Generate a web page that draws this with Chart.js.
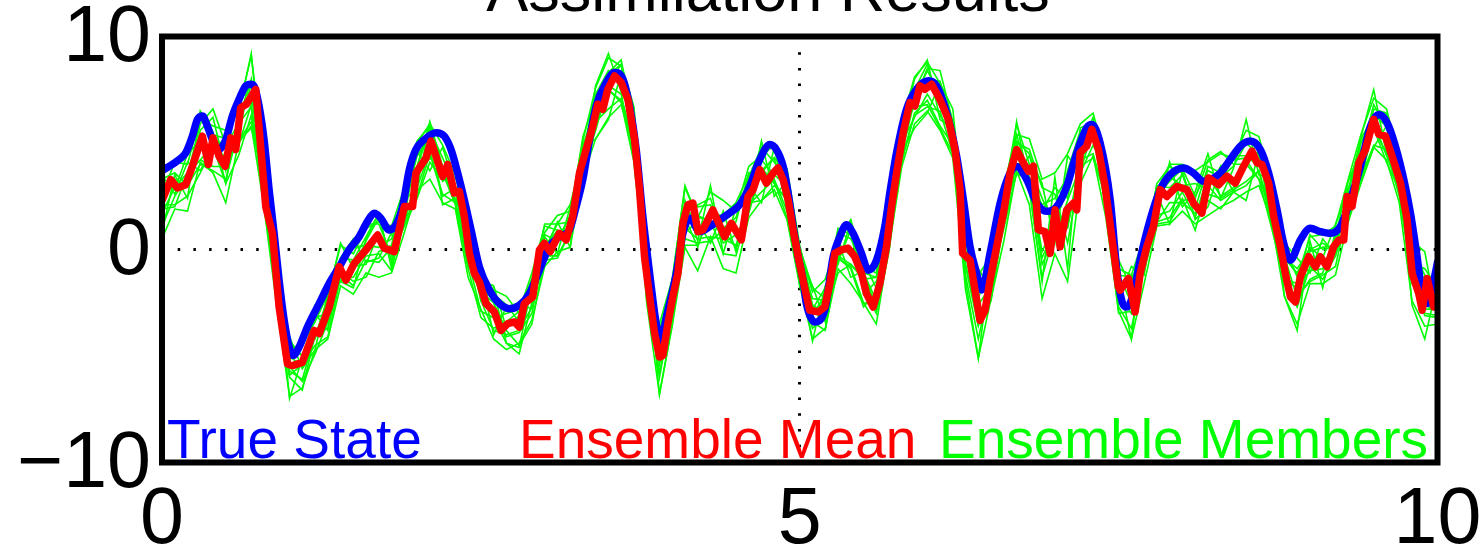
<!DOCTYPE html>
<html>
<head>
<meta charset="utf-8">
<script src="https://cdn.jsdelivr.net/npm/chart.js@4.4.0/dist/chart.umd.min.js"></script>
<style>
html, body { margin: 0; padding: 0; background: #fff; }
canvas { display: block; }
</style>
</head>
<body>
<canvas id="myChart" width="1484" height="551"></canvas>
<script>
// true state (blue) at its turning points
var true_x = [0, 0.133, 0.186, 0.238, 0.277, 0.317, 0.356, 0.395, 0.447, 0.5, 0.552, 0.604, 0.657, 0.696, 0.722, 0.761, 0.8, 0.84, 0.879, 0.918, 0.958, 0.997, 1.028, 1.075, 1.14, 1.232, 1.31, 1.39, 1.468, 1.546, 1.61, 1.664, 1.716, 1.78, 1.834, 1.886, 1.939, 1.99, 2.057, 2.148, 2.213, 2.266, 2.318, 2.37, 2.423, 2.488,
	2.567, 2.645, 2.724, 2.802, 2.88, 2.959, 3.037, 3.116, 3.194, 3.247, 3.299, 3.352, 3.404, 3.483, 3.548, 3.614, 3.666, 3.718, 3.77, 3.823, 3.875, 3.914, 3.954, 4.032, 4.084, 4.137, 4.215, 4.294, 4.372, 4.45, 4.529, 4.607, 4.686, 4.765, 4.817, 4.87, 4.909, 4.948, 4.988, 5.026,
	5.052, 5.118, 5.196, 5.262, 5.314, 5.366, 5.418, 5.484, 5.536, 5.602, 5.667, 5.706, 5.759, 5.837, 5.916, 6.008, 6.073, 6.152, 6.23, 6.283, 6.335, 6.387, 6.427, 6.492, 6.571, 6.649, 6.701, 6.78, 6.858, 6.936, 7.015, 7.093, 7.172, 7.25, 7.29, 7.355, 7.434, 7.486,
	7.53, 7.564, 7.616, 7.668, 7.747, 7.826, 7.904, 8.009, 8.087, 8.166, 8.218, 8.297, 8.375, 8.454, 8.532, 8.611, 8.676, 8.742, 8.794, 8.846, 8.925, 9.003, 9.082, 9.16, 9.239, 9.317, 9.396, 9.474, 9.54, 9.605, 9.67, 9.736, 9.788, 9.84, 9.879, 9.919, 9.971, 10];
var true_y = [3.7, 4.22, 4.54, 5.32, 6.1, 6.27, 5.79, 5.16, 4.69, 5.16, 6.27, 7.05, 7.68, 7.76, 7.68, 6.74, 5.17, 2.8, 0.76, -1.44, -3.33, -4.58, -4.98, -4.58, -3.64, -2.54, -1.6, -0.81, 0.0, 0.6, 1.31, 1.7, 1.47, 0.92, 1.16, 2.02, 3.75, 4.69, 5.16, 5.48, 5.32, 4.69, 3.59, 2.33, 0.92, -0.81,
	-1.91, -2.54, -2.78, -2.62, -2.07, -0.97, 0.13, 0.6, 0.92, 2.02, 3.28, 5.16, 6.74, 7.84, 8.31, 8.0, 6.74, 4.69, 1.55, -1.12, -3.48, -4.27, -3.17, -1.12, 0.76, 1.47, 0.84, 1.08, 1.39, 1.71, 2.1, 2.96, 4.22, 4.93, 4.69, 3.9, 2.65, 1.08, -0.34, -1.44,
	-2.54, -3.4, -2.85, -0.34, 0.6, 1.16, 0.76, -0.18, -0.97, -0.5, 1.08, 2.65, 4.54, 6.58, 7.52, 7.92, 7.68, 6.42, 4.38, 2.33, 0.13, -1.12, -1.9, -0.18, 2.18, 3.59, 3.9, 3.28, 2.18, 1.79, 2.02, 2.96, 4.54, 5.72, 5.87, 5.0, 2.33, -0.97,
	-2.5, -2.7, -2.07, -0.5, 1.39, 2.8, 3.51, 3.83, 3.59, 3.2, 3.28, 3.59, 4.22, 4.85, 5.09, 4.69, 3.59, 1.86, 0.29, -0.5, 0.45, 1.0, 0.84, 0.76, 1.08, 2.33, 3.9, 5.79, 6.34, 5.95, 4.85, 3.28, 1.71, -0.34, -2.07, -2.54, -1.44, -0.6];

// ensemble mean (red)
var mean_x = [0, 0.068, 0.12, 0.186, 0.238, 0.317, 0.364, 0.4, 0.447, 0.495, 0.539, 0.578, 0.617, 0.662, 0.735, 0.814, 0.866, 0.918, 0.984, 1.023, 1.1, 1.193, 1.232, 1.311, 1.389, 1.442, 1.507, 1.599, 1.69, 1.743, 1.821, 1.9, 1.965, 1.991, 2.07, 2.109, 2.2, 2.24, 2.292, 2.331, 2.37, 2.41, 2.449, 2.488,
	2.54, 2.606, 2.658, 2.71, 2.763, 2.802, 2.841, 2.907, 2.959, 2.998, 3.043, 3.116, 3.168, 3.22, 3.273, 3.325, 3.378, 3.417, 3.456, 3.495, 3.548, 3.6, 3.653, 3.705, 3.744, 3.783, 3.823, 3.862, 3.901, 3.927, 3.966, 4.005, 4.045, 4.084, 4.123, 4.162, 4.202, 4.241, 4.319, 4.411, 4.464, 4.542, 4.594, 4.634, 4.686, 4.738, 4.791, 4.83, 4.87, 4.909, 4.948, 4.988, 5.026,
	5.078, 5.144, 5.196, 5.236, 5.275, 5.327, 5.379, 5.432, 5.484, 5.523, 5.576, 5.628, 5.68, 5.72, 5.759, 5.811, 5.864, 5.903, 5.942, 5.981, 6.034, 6.099, 6.165, 6.217, 6.257, 6.277, 6.335, 6.374, 6.414, 6.453, 6.492, 6.544, 6.597, 6.649, 6.701, 6.753, 6.793, 6.832, 6.871, 6.923, 6.963, 7.002, 7.041, 7.093, 7.146, 7.172, 7.198, 7.25, 7.29, 7.342, 7.394, 7.446, 7.498,
	7.512, 7.577, 7.629, 7.669, 7.721, 7.773, 7.826, 7.878, 7.957, 8.035, 8.087, 8.153, 8.205, 8.283, 8.349, 8.415, 8.48, 8.545, 8.585, 8.624, 8.676, 8.716, 8.768, 8.807, 8.847, 8.886, 8.925, 8.991, 9.043, 9.082, 9.134, 9.186, 9.226, 9.265, 9.291, 9.33, 9.356, 9.383, 9.435, 9.5, 9.54, 9.592, 9.644, 9.71, 9.762, 9.801, 9.853, 9.88, 9.919, 9.971, 10];
var mean_y = [2.3, 3.28, 2.89, 3.04, 3.91, 5.32, 3.99, 5.24, 4.38, 3.91, 5.24, 4.69, 6.66, 6.82, 7.52, 1.99, 0.76, -2.7, -5.37, -5.45, -5.3, -3.8, -3.95, -2.7, -0.81, -1.44, -0.65, -0.02, 0.68, 0.06, -0.1, 2.02, 2.02, 3.59, 4.3, 5.09, 3.43, 3.99, 2.65, 2.73, 1.55, -0.18, -1.12, -1.52,
	-2.54, -2.93, -3.8, -3.48, -3.4, -3.64, -2.54, -2.22, -0.02, 0.29, -0.1, 0.76, 0.45, 1.55, 3.59, 4.69, 5.79, 6.82, 6.58, 7.52, 8.15, 7.84, 7.05, 5.16, 2.81, -0.34, -2.22, -3.95, -5.05, -4.97, -3.48, -2.22, -1.12, 1.23, 2.1, 2.18, 0.84, 0.92, 1.86, 0.6, 1.23, 0.45, 2.49, 2.81, 3.75, 3.12, 3.59, 3.83, 3.28, 2.33, 0.92, -0.34, -1.44,
	-2.85, -2.93, -2.7, -1.6, -0.18, -0.02, 0.06, -0.34, -1.12, -2.07, -2.7, -1.6, 0.13, 2.02, 3.59, 5.48, 6.9, 6.74, 7.68, 7.52, 7.76, 7.05, 6.11, 4.69, 2.81, -0.18, -0.5, -1.91, -3.33, -2.85, -1.44, 0.13, 1.71, 3.59, 4.69, 4.07, 3.67, 3.91, 0.92, 0.84, -0.18, 1.86, 0.13, 1.86, 2.18, 1.86, 4.54, 4.85, 5.64, 4.69, 2.96, 0.6, -1.75,
	-1.91, -1.36, -2.93, -1.12, 0.13, 1.08, 2.81, 2.49, 2.96, 2.81, 2.18, 1.71, 3.36, 3.04, 3.44, 3.12, 3.91, 4.62, 4.07, 3.99, 3.12, 1.55, 0.13, -1.12, -2.22, -2.46, -1.28, -0.34, -0.81, -0.34, -0.81, 0.13, 0.45, 0.45, 2.49, 2.02, 2.96, 4.07, 4.69, 6.11, 5.4, 5.32, 4.38, 3.12, 1.39, -1.12, -2.07, -2.85, -1.36, -2.7, -2.5];

// ensemble members (green), one value every 0.1
var member_t = [0, 0.1, 0.2, 0.3, 0.4, 0.5, 0.6, 0.7, 0.8, 0.9, 1, 1.1, 1.2, 1.3, 1.4, 1.5, 1.6, 1.7, 1.8, 1.9,
	2, 2.1, 2.2, 2.3, 2.4, 2.5, 2.6, 2.7, 2.8, 2.9, 3, 3.1, 3.2, 3.3, 3.4, 3.5, 3.6, 3.7, 3.8, 3.9,
	4, 4.1, 4.2, 4.3, 4.4, 4.5, 4.6, 4.7, 4.8, 4.9, 5, 5.1, 5.2, 5.3, 5.4, 5.5, 5.6, 5.7, 5.8, 5.9,
	6, 6.1, 6.2, 6.3, 6.4, 6.5, 6.6, 6.7, 6.8, 6.9, 7, 7.1, 7.2, 7.3, 7.4, 7.5, 7.6, 7.7, 7.8, 7.9,
	8, 8.1, 8.2, 8.3, 8.4, 8.5, 8.6, 8.7, 8.8, 8.9, 9, 9.1, 9.2, 9.3, 9.4, 9.5, 9.6, 9.7, 9.8, 9.9, 10];
var member1 = [3.5,4.0,4.7,6.1,5.8,5.6,6.6,9.1,4.2,-0.7, -4.8,-4.4,-3.4,-2.1,0.2,-0.2,1.0,1.3,1.1,2.9, 5.0,5.9,4.9,3.5,1.9,-1.1,-1.9,-2.2,-3.0,-1.4, 0.8,1.6,1.8,5.1,7.6,9.0,8.6,6.5,0.4,-3.8, -1.5,3.0,1.5,2.7,2.3,1.8,3.9,4.4,4.9,3.6, 0.0,-2.0,-1.4,0.5,1.4,-0.8,-1.1,2.6,6.0,8.1, 8.8,7.8,6.6,0.7,-1.2,-0.3,3.0,5.4,5.2,3.3, 3.6,4.5,5.9,6.4,4.2,-0.9,-1.2,0.6,2.8,4.0, 4.0,3.7,4.1,4.5,4.3,5.6,5.3,3.0,0.2,-1.3, 0.6,0.7,1.1,3.3,5.4,7.1,6.6,4.3,0.1,-1.2,-1.5];
var member2 = [0.5,1.9,1.8,4.1,3.6,2.2,5.0,5.8,2.0,-2.7, -6.9,-6.5,-4.7,-4.2,-1.7,-2.1,-1.1,-1.3,-1.1,0.8, 2.8,3.3,2.2,1.9,-1.3,-2.8,-4.2,-4.7,-4.4,-3.3, -0.8,-0.1,0.1,3.4,5.2,6.2,6.8,4.8,-2.5,-6.8, -3.6,0.1,-1.0,0.6,-0.9,-1.1,1.5,2.3,2.8,1.4, -1.7,-4.2,-3.7,-0.9,-1.6,-2.5,-3.5,0.1,3.9,5.9, 6.5,5.6,4.3,-1.9,-5.1,-2.3,0.4,3.7,2.1,-2.3, -0.2,-1.5,3.1,4.4,1.5,-2.9,-4.2,-1.6,1.1,1.2, 1.8,1.2,1.6,2.0,2.3,2.7,3.0,1.3,-2.2,-3.5, -1.6,-1.6,-1.2,1.3,3.1,4.8,4.2,2.2,-2.4,-3.6,-3.5];
var member3 = [2.8,3.3,3.0,5.6,6.2,3.7,6.1,8.0,2.8,-1.1, -4.5,-5.0,-3.2,-3.0,-0.5,0.1,0.2,0.1,0.5,2.1, 4.4,5.3,3.2,3.6,0.6,-1.2,-3.2,-3.0,-2.8,-2.1, 0.7,0.4,1.6,4.9,6.5,8.2,8.7,5.7,-1.6,-4.5, -1.6,1.8,1.6,1.3,1.3,1.8,2.7,4.2,3.5,3.0, -0.1,-2.8,-1.8,0.3,-0.3,-1.1,-1.3,1.3,5.8,7.1, 8.4,7.3,5.0,0.3,-1.9,-0.8,1.9,5.4,3.4,2.1, 2.4,3.4,4.9,6.2,3.0,-1.2,-2.5,0.1,3.0,2.9, 3.5,1.9,3.9,3.6,4.2,4.3,4.6,1.9,-0.3,-1.2, -0.1,0.1,0.2,2.7,5.0,6.3,5.8,3.8,-1.2,-1.3,-2.2];
var member4 = [1.7,2.9,3.6,4.2,4.9,4.3,4.9,6.8,2.3,-1.4, -5.7,-6.1,-4.0,-2.5,-1.5,-0.8,-0.7,0.8,-0.5,1.2, 3.5,4.3,3.7,2.2,-0.7,-2.0,-2.5,-4.1,-3.9,-3.0, 0.1,0.9,0.5,3.8,5.6,7.7,7.3,4.5,-1.0,-5.4, -3.0,1.5,0.1,1.9,0.3,0.7,1.7,3.7,3.1,2.3, -1.1,-2.7,-3.3,-0.3,-0.7,-1.3,-2.7,0.3,5.0,6.2, 7.3,6.3,5.4,-0.8,-3.6,-1.4,1.2,5.0,3.3,-0.4, 1.0,1.0,4.1,5.5,2.1,-2.1,-3.0,-0.2,1.6,1.8, 2.7,1.5,3.5,2.5,2.9,4.2,3.3,1.9,-1.4,-1.8, -1.0,-0.9,0.5,1.5,3.8,6.0,4.4,2.9,-0.7,-2.6,-2.9];
var member5 = [1.1,2.5,3.5,5.9,6.6,4.9,5.9,6.7,2.0,-2.1, -5.2,-4.5,-2.6,-2.3,-1.0,-1.5,-1.3,-0.1,0.2,3.0, 5.1,5.8,3.6,2.1,-0.9,-3.2,-3.7,-3.4,-2.9,-1.1, 1.1,0.9,0.7,3.2,5.8,7.8,8.7,6.7,-0.5,-5.2, -3.3,0.2,0.2,1.7,1.6,2.2,3.5,3.8,3.2,1.5, -1.5,-3.1,-2.1,1.0,0.7,-1.7,-3.0,-0.1,4.5,7.0, 8.5,8.4,6.0,-0.2,-3.5,-2.4,1.3,5.0,4.7,2.9, 2.6,0.3,3.7,5.6,3.7,-0.5,-1.8,-0.6,1.2,1.3, 2.3,2.4,4.2,4.6,4.0,4.0,3.3,1.0,-1.4,-1.6, 0.7,0.0,0.1,1.3,3.8,6.6,6.4,4.1,-1.3,-3.0,-3.1];
var member6 = [3.3,3.6,3.0,4.0,3.7,3.3,5.6,7.8,4.1,-0.8, -5.5,-6.2,-4.9,-3.4,-0.6,0.2,1.2,1.2,-0.3,1.1, 2.4,4.1,3.3,3.4,1.5,-0.8,-2.5,-3.8,-4.5,-3.5, -0.4,0.4,1.6,5.3,7.1,7.5,7.0,4.2,-1.8,-4.7, -1.4,2.9,1.5,1.4,-0.2,-0.3,1.9,3.6,4.3,3.8, 0.2,-2.6,-3.0,-1.1,-0.7,-1.4,-1.3,2.4,5.8,6.7, 6.8,5.7,4.5,-0.3,-2.0,0.0,2.4,4.5,2.8,-1.3, 0.8,3.7,5.6,5.4,2.0,-3.0,-2.9,-0.1,3.1,3.9, 3.6,1.9,2.3,1.9,2.7,4.3,5.0,3.5,-0.3,-2.3, -1.4,-1.1,0.6,3.2,4.7,5.7,4.1,2.8,-0.6,-0.9,-1.8];
var member7 = [2.6,4.1,4.0,6.3,5.4,5.2,7.2,7.6,3.6,-0.5, -5.0,-5.5,-2.9,-1.9,-0.4,-0.5,0.6,1.7,0.7,2.4, 3.9,5.6,4.3,3.0,0.8,-1.6,-2.1,-2.6,-3.4,-1.7, 1.2,1.2,1.3,4.6,7.3,8.4,8.1,6.0,-0.3,-4.2, -2.0,2.2,2.0,2.1,1.0,1.5,3.4,4.8,4.1,3.3, -0.4,-2.3,-2.4,0.8,0.5,-0.6,-1.8,1.7,6.1,7.3, 8.0,7.9,5.8,0.0,-2.3,-0.5,2.7,5.1,4.5,1.8, 2.9,2.4,5.4,5.8,3.4,-1.5,-1.5,0.3,2.5,3.2, 3.8,2.5,3.7,3.4,3.9,5.0,4.4,2.9,-0.4,-1.1, 0.1,-0.4,1.2,2.8,4.5,6.8,5.7,4.2,-0.6,-1.8,-1.9];
var member8 = [2.1,2.1,2.5,3.6,4.8,3.1,4.4,6.3,2.6,-2.4, -5.9,-5.4,-4.5,-4.1,-1.3,-1.3,-0.3,-0.2,-1.0,1.7, 2.9,4.6,2.6,2.2,0.1,-2.4,-3.8,-4.0,-3.8,-2.7, -0.3,-0.3,0.8,3.5,6.0,6.6,7.1,5.1,-2.1,-5.8, -2.9,1.0,0.5,0.6,0.5,0.2,2.1,2.7,3.3,1.8, -1.3,-3.7,-3.1,-0.4,-0.8,-2.5,-2.6,0.5,4.3,6.3, 6.7,6.5,4.5,-0.7,-3.4,-2.0,1.3,4.0,3.4,-0.1, 1.2,1.1,4.2,4.5,2.3,-2.5,-2.7,-1.0,1.3,2.2, 2.2,1.7,2.6,2.4,2.8,3.2,3.7,1.6,-1.2,-2.7, -0.8,-1.4,-0.3,1.6,3.3,5.7,4.5,2.9,-1.6,-2.8,-2.8];
var member9 = [3.2,2.8,4.5,5.1,4.7,4.9,7.1,7.4,2.4,-1.0, -4.3,-5.0,-4.2,-2.2,0.3,-0.9,0.4,1.5,-0.6,2.6, 3.9,6.0,3.9,2.3,1.1,-1.5,-1.7,-3.7,-3.1,-1.4, 0.0,1.2,2.1,4.4,5.9,8.3,8.9,5.8,-1.4,-4.1, -1.9,1.2,2.1,2.4,0.5,1.3,3.6,3.7,4.3,2.1, 0.1,-1.8,-2.3,-0.5,0.9,-1.1,-2.4,2.1,5.4,7.5, 8.7,6.7,5.8,0.6,-2.6,-1.7,2.6,5.9,4.0,2.4, 1.2,2.9,5.0,5.1,3.7,-1.2,-1.3,-0.6,2.6,3.4, 3.0,3.1,2.8,3.9,4.4,4.4,3.9,3.0,-0.4,-0.9, 0.0,0.3,-0.1,2.8,5.2,6.3,4.8,4.1,-0.1,-1.7,-2.0];
var member10 = [1.9,2.0,3.6,4.2,3.9,3.9,5.1,6.0,3.1,-2.4, -6.0,-6.6,-4.0,-3.7,-1.2,-1.7,-0.5,-0.6,0.1,1.3, 2.5,4.5,2.5,2.9,-0.5,-2.9,-3.2,-4.4,-4.9,-2.5, -0.5,-0.4,0.8,3.1,5.8,7.5,6.9,4.1,-1.6,-6.0, -2.7,0.5,0.3,0.4,0.9,0.1,2.2,2.3,3.0,2.4, -1.7,-3.4,-3.8,-0.4,-0.9,-2.7,-2.0,0.4,4.1,6.4, 7.0,5.8,4.9,-1.2,-4.2,-1.4,1.0,3.6,3.2,-0.7, 0.6,2.3,3.9,4.3,2.5,-2.7,-3.7,-0.8,1.3,1.5, 2.4,0.9,3.0,2.3,2.7,3.0,3.7,1.2,-1.6,-2.2, -1.5,-1.2,-0.8,1.9,3.4,4.9,4.7,2.5,-1.3,-3.1,-3.2];
var member11 = [0.8,3.5,2.4,6.5,5.5,3.1,6.4,9.2,2.7,-0.7, -7.0,-5.1,-3.0,-3.8,-0.4,0.5,-0.6,-0.4,0.8,1.6, 4.6,3.7,4.8,2.9,-0.8,-1.3,-4.0,-2.7,-2.5,-2.8, 0.6,-0.2,2.0,3.6,7.7,9.2,7.4,6.2,-0.2,-6.8, -3.5,2.3,0.4,3.0,-0.2,2.0,2.3,5.1,2.5,3.2, -1.0,-4.3,-1.7,-0.7,1.3,-2.1,-1.5,0.0,5.5,8.0, 8.9,6.1,5.7,-1.5,-5.1,-0.4,1.4,6.0,2.9,-1.5, 3.4,-0.9,5.7,6.0,1.8,-1.4,-4.2,0.5,1.5,4.1, 2.0,2.7,4.5,2.4,3.8,6.1,3.5,3.4,-2.2,-3.8, 0.4,-1.8,0.9,1.4,5.3,7.5,4.5,3.9,-2.6,-4.2,-1.6];
var member12 = [3.5,2.6,4.1,3.7,4.8,5.2,5.1,5.7,3.4,-2.4, -4.1,-5.6,-4.7,-2.1,-1.5,-1.8,0.5,1.7,-0.9,2.3, 2.9,5.9,2.1,2.4,1.4,-2.4,-1.9,-4.4,-4.6,-1.7, -0.1,1.3,0.1,4.7,5.2,6.1,8.3,4.7,-2.3,-3.5, -1.4,0.8,1.3,0.3,1.8,-0.1,3.0,2.2,4.8,1.9, -0.3,-1.7,-3.4,0.4,-1.3,-1.0,-2.8,2.1,4.6,5.7, 6.4,7.8,4.6,0.8,-0.9,-1.9,2.1,3.5,4.4,3.1, 0.3,4.4,3.6,4.9,3.7,-2.3,-0.8,-1.2,2.6,1.2, 3.7,1.4,2.0,3.9,2.7,2.3,4.6,1.1,0.3,-0.4, -1.1,0.5,-0.3,2.9,3.2,4.8,5.8,3.0,0.4,-0.1,-3.3];

var x_ticks = [0, 5, 10];
var y_ticks = [-10, 0, 10];
var legend_names = ['True State', 'Ensemble Mean', 'Ensemble Members'];
var legend_colors = ['#0000ff', '#ff0000', '#00ff00'];
var chart_title = 'Assimilation Results';

var FONT = '"Liberation Sans", Arial, Helvetica, sans-serif';

function pts(xs, ys) {
	return xs.map((x, i) => ({ x: x, y: ys[i] }));
}

// box round the plot, legend words and the (cut off) title
const decorations = {
	id: 'decorations',
	afterDatasetsDraw(chart) {
		const a = chart.chartArea;
		const ctx = chart.ctx;
		ctx.save();
		ctx.lineWidth = 6;
		ctx.strokeStyle = '#000';
		ctx.strokeRect(a.left, a.top, a.right - a.left, a.bottom - a.top);

		ctx.font = '55px ' + FONT;
		ctx.textBaseline = 'alphabetic';
		ctx.textAlign = 'left';
		ctx.fillStyle = legend_colors[0];
		ctx.fillText(legend_names[0], a.left + 5, a.bottom - 5);
		ctx.fillStyle = legend_colors[1];
		ctx.fillText(legend_names[1], a.left + 357, a.bottom - 5);
		ctx.fillStyle = legend_colors[2];
		ctx.fillText(legend_names[2], a.left + 777, a.bottom - 5);

		ctx.font = '63px ' + FONT;
		ctx.textAlign = 'center';
		ctx.fillStyle = '#000';
		ctx.fillText(chart_title, 768, 11);
		ctx.restore();
	}
};

var members = [member1, member2, member3, member4, member5, member6, member7, member8, member9, member10, member11, member12];
var datasets = [
	{
		label: legend_names[1],
		data: pts(mean_x, mean_y),
		borderColor: '#ff0000',
		borderWidth: 7.5,
		borderJoinStyle: 'round',
		borderCapStyle: 'round',
		pointRadius: 0,
		tension: 0,
		order: 0
	},
	{
		label: legend_names[0],
		data: pts(true_x, true_y),
		borderColor: '#0000ff',
		borderWidth: 7.5,
		borderJoinStyle: 'round',
		borderCapStyle: 'round',
		pointRadius: 0,
		cubicInterpolationMode: 'monotone',
		order: 1
	}
];
members.forEach(function (m, i) {
	datasets.push({
		label: legend_names[2] + ' ' + (i + 1),
		data: pts(member_t, m),
		borderColor: '#00ff00',
		borderWidth: 1.6,
		pointRadius: 0,
		tension: 0,
		order: 2
	});
});

const ctx = document.getElementById('myChart').getContext('2d');
const myChart = new Chart(ctx, {
	type: 'line',
	data: { datasets: datasets },
	options: {
		responsive: false,
		animation: false,
		devicePixelRatio: 1,
		events: [],
		layout: { padding: { top: 36.5, right: 46.5, left: 0, bottom: 0 } },
		plugins: {
			legend: { display: false },
			tooltip: { enabled: false },
			title: { display: false }
		},
		scales: {
			x: {
				type: 'linear',
				min: 0,
				max: 10,
				afterBuildTicks: s => { s.ticks = x_ticks.map(v => ({ value: v })); },
				afterFit: s => { s.height = 88.5; s.paddingLeft = 0; s.paddingRight = 0; },
				ticks: {
					color: '#000',
					padding: 11,
					maxRotation: 0,
					autoSkip: false,
					font: { family: FONT, size: 79 }
				},
				grid: { color: '#000', lineWidth: 3, drawTicks: false },
				border: { display: false, dash: [2.5, 13.2] }
			},
			y: {
				type: 'linear',
				min: -10,
				max: 10,
				afterBuildTicks: s => { s.ticks = y_ticks.map(v => ({ value: v })); },
				afterFit: s => { s.width = 162; s.paddingTop = 0; s.paddingBottom = 0; },
				ticks: {
					color: '#000',
					padding: 11,
					labelOffset: 3,
					font: { family: FONT, size: 79 },
					callback: v => v < 0 ? '\u2212' + Math.abs(v) : String(v)
				},
				grid: { color: '#000', lineWidth: 3, drawTicks: false },
				border: { display: false, dash: [2.5, 13.2] }
			}
		}
	},
	plugins: [decorations]
});
</script>
</body>
</html>
